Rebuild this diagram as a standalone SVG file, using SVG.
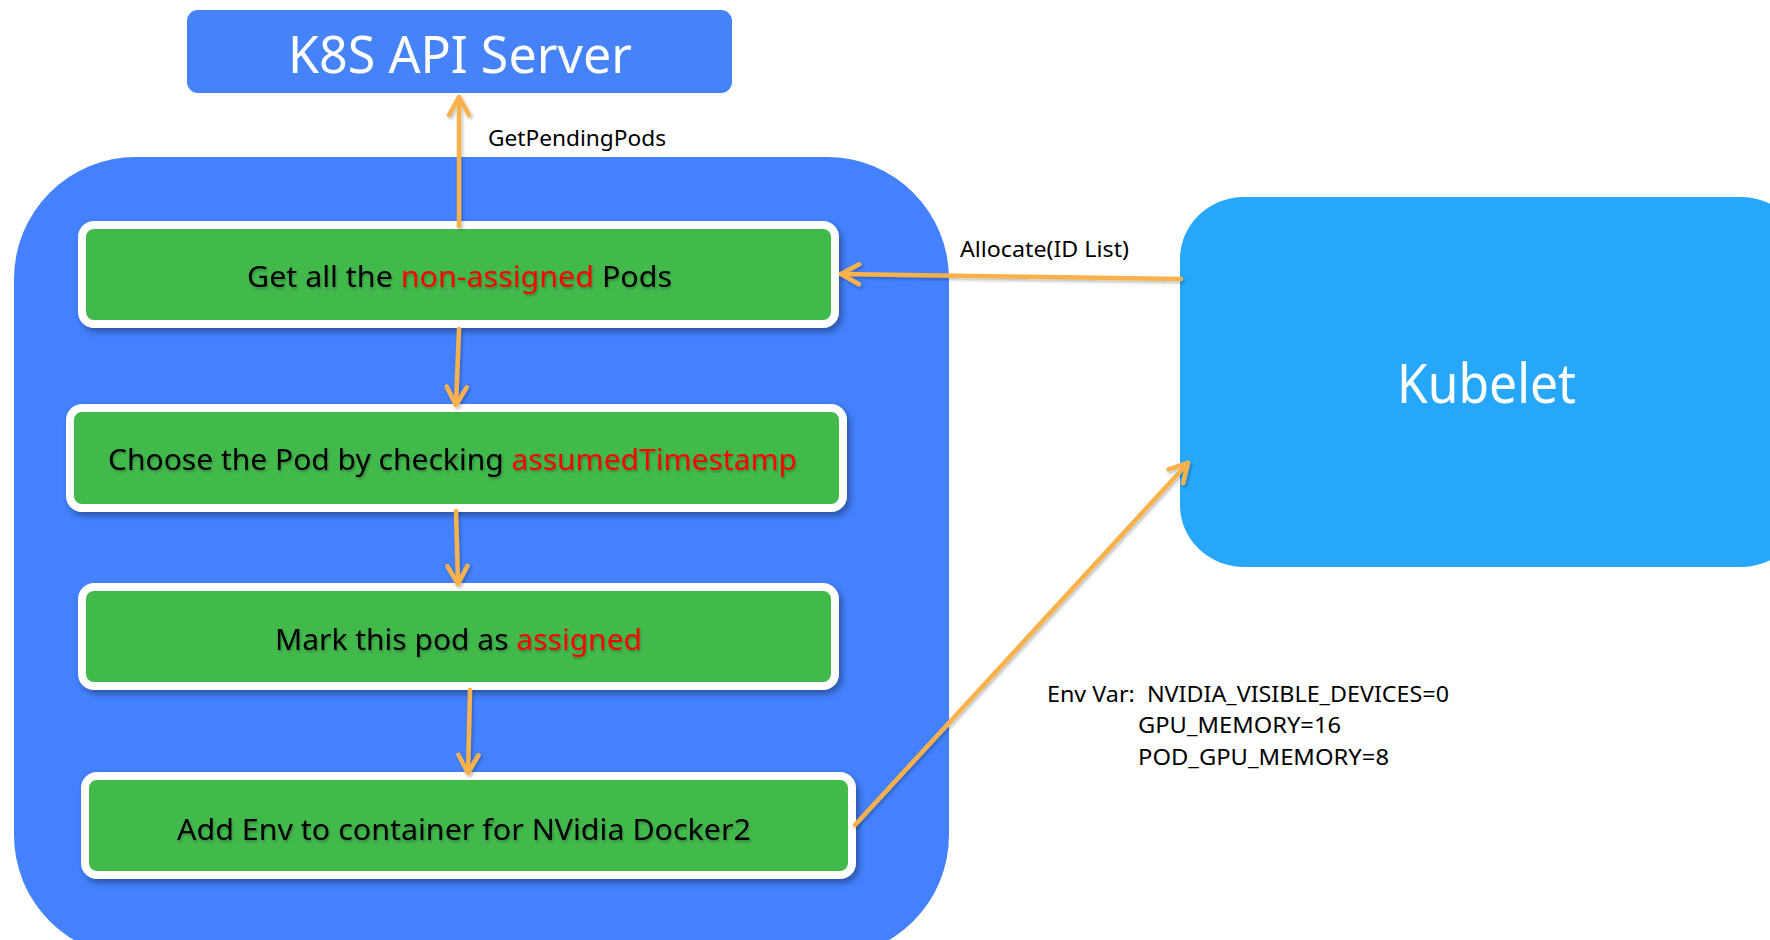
<svg xmlns="http://www.w3.org/2000/svg" width="1770" height="940" viewBox="0 0 1770 940">
  <defs>
    <style>
      .lbl { font-family: "Noto Sans", "Open Sans", sans-serif; fill: #000; }
      .step { font-family: "Noto Sans", "Open Sans", sans-serif; font-size: 29px; fill: #000; }
      .hl { fill: #FF0000; }
      .title { font-family: "Noto Sans", "Open Sans", sans-serif; fill: #FFFFFF; }
      .stepbox { fill: #42B94C; stroke: #FFFFFF; stroke-width: 8; }
      .conn { stroke: #F9B24B; stroke-width: 4.5; fill: none; stroke-linecap: round; }
    </style>
    <marker id="arrow" markerUnits="userSpaceOnUse" markerWidth="26" markerHeight="26" viewBox="0 0 26 26" refX="22" refY="13" orient="auto">
      <path d="M4,3 L22,13 L4,23" fill="none" stroke="#F9B24B" stroke-width="4.5" stroke-linecap="round" stroke-linejoin="round"/>
    </marker>
    <filter id="shadow" x="-10%" y="-20%" width="130%" height="150%">
      <feDropShadow dx="3" dy="4" stdDeviation="3" flood-color="#000" flood-opacity="0.35"/>
    </filter>
    <filter id="lineShadow" x="-10%" y="-10%" width="130%" height="130%">
      <feDropShadow dx="1.5" dy="2" stdDeviation="1.5" flood-color="#000" flood-opacity="0.25"/>
    </filter>
    <filter id="textShadow" x="-5%" y="-20%" width="110%" height="150%">
      <feDropShadow dx="1" dy="2" stdDeviation="1" flood-color="#000" flood-opacity="0.25"/>
    </filter>
  </defs>

  <rect width="1770" height="940" fill="#FFFFFF"/>

  <!-- Scheduler extender container -->
  <g id="extender">
    <rect x="14" y="157" width="935" height="800" rx="122" ry="122" fill="#4381FE"/>
  </g>

  <!-- API server -->
  <g id="api-server">
    <rect x="187" y="10" width="545" height="83" rx="11" fill="#4683F9"/>
    <text class="title" x="460" y="73" font-size="51" text-anchor="middle" textLength="344" lengthAdjust="spacingAndGlyphs">K8S API Server</text>
  </g>

  <!-- Kubelet -->
  <g id="kubelet">
    <rect x="1180" y="197" width="625" height="370" rx="64" ry="62" fill="#26A7FA"/>
    <text class="title" x="1397" y="403" font-size="54" textLength="179" lengthAdjust="spacingAndGlyphs">Kubelet</text>
  </g>

  <!-- Steps -->
  <g id="step-get-pods" filter="url(#shadow)">
    <rect class="stepbox" x="82" y="225" width="753" height="99" rx="12"/>
    <text class="step" x="247" y="287" textLength="425" lengthAdjust="spacingAndGlyphs" filter="url(#textShadow)">Get all the <tspan class="hl">non-assigned</tspan> Pods</text>
  </g>

  <g id="step-choose-pod" filter="url(#shadow)">
    <rect class="stepbox" x="70" y="408" width="773" height="100" rx="12"/>
    <text class="step" x="108" y="470" textLength="689" lengthAdjust="spacingAndGlyphs" filter="url(#textShadow)">Choose the Pod by checking <tspan class="hl">assumedTimestamp</tspan></text>
  </g>

  <g id="step-mark-assigned" filter="url(#shadow)">
    <rect class="stepbox" x="82" y="587" width="753" height="99" rx="12"/>
    <text class="step" x="275" y="650" textLength="367" lengthAdjust="spacingAndGlyphs" filter="url(#textShadow)">Mark this pod as <tspan class="hl">assigned</tspan></text>
  </g>

  <g id="step-add-env" filter="url(#shadow)">
    <rect class="stepbox" x="85" y="776" width="767" height="99" rx="12"/>
    <text class="step" x="177" y="840" textLength="574" lengthAdjust="spacingAndGlyphs" filter="url(#textShadow)">Add Env to container for NVidia Docker2</text>
  </g>

  <!-- Connectors -->
  <g id="connectors" filter="url(#lineShadow)">
    <line class="conn" x1="459" y1="226" x2="459" y2="97" marker-end="url(#arrow)"/>
    <line class="conn" x1="459" y1="329" x2="456" y2="405" marker-end="url(#arrow)"/>
    <line class="conn" x1="456" y1="511" x2="458" y2="584" marker-end="url(#arrow)"/>
    <line class="conn" x1="470" y1="690" x2="468" y2="773" marker-end="url(#arrow)"/>
    <line class="conn" x1="1181" y1="279" x2="841" y2="274" marker-end="url(#arrow)"/>
    <line class="conn" x1="855" y1="825" x2="1188" y2="463" marker-end="url(#arrow)"/>
  </g>

  <!-- Connector labels -->
  <g id="labels">
    <text class="lbl" x="488" y="146" font-size="22" textLength="178" lengthAdjust="spacingAndGlyphs">GetPendingPods</text>
    <text class="lbl" x="960" y="257" font-size="22" textLength="169" lengthAdjust="spacingAndGlyphs">Allocate(ID List)</text>
    <text class="lbl" x="1047" y="702" font-size="22" textLength="402" lengthAdjust="spacingAndGlyphs" xml:space="preserve">Env Var:  NVIDIA_VISIBLE_DEVICES=0</text>
    <text class="lbl" x="1138" y="733" font-size="22" textLength="203" lengthAdjust="spacingAndGlyphs">GPU_MEMORY=16</text>
    <text class="lbl" x="1138" y="765" font-size="22" textLength="251" lengthAdjust="spacingAndGlyphs">POD_GPU_MEMORY=8</text>
  </g>
</svg>
